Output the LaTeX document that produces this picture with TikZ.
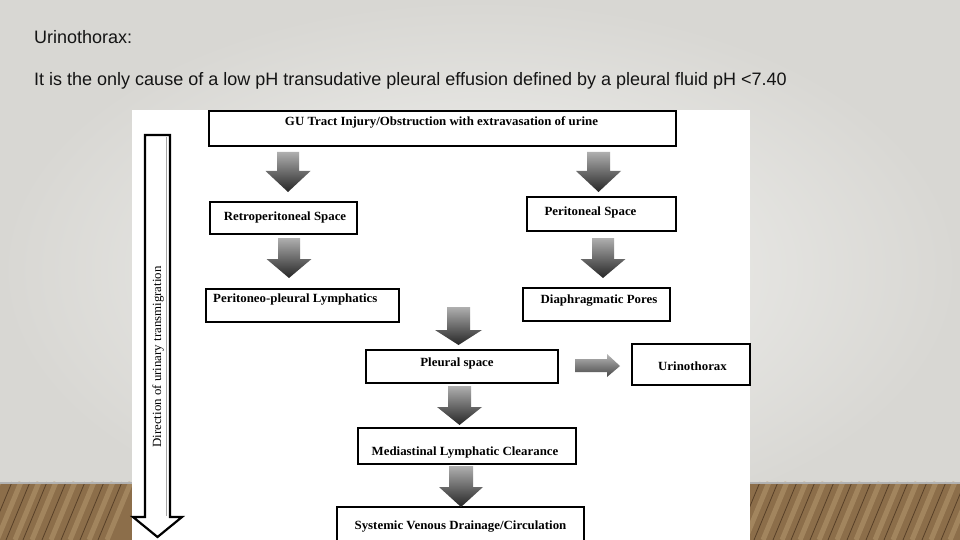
\documentclass[tikz,border=0pt]{standalone}
\usepackage{fontspec}
\setmainfont{Liberation Sans}
\newfontfamily\cambriaish[FakeStretch=1.03]{Liberation Serif}
\usetikzlibrary{calc}
\definecolor{bgin}{RGB}{244,244,242}
\definecolor{bgout}{RGB}{216,215,211}
\definecolor{woodbase}{RGB}{140,110,74}
\definecolor{wooddark}{RGB}{88,64,40}
\definecolor{woodlight}{RGB}{190,162,120}
\definecolor{arrtop}{RGB}{175,175,175}
\definecolor{arrbot}{RGB}{38,38,38}
\tikzset{
  box/.style={draw=black, line width=2pt, fill=white, inner sep=0pt, anchor=north west},
  lbl/.style={font=\cambriaish\fontsize{12.5}{14}\selectfont\bfseries, inner sep=0pt, anchor=base},
  dirlbl/.style={font=\cambriaish\fontsize{12.5}{14}\selectfont, inner sep=0pt, rotate=90},
  toptxt/.style={font=\fontsize{18}{21}\selectfont, text=black!92, inner sep=0pt, anchor=base west},
}
\newcommand\dblock[6]{%
  \shade[top color=arrtop, bottom color=arrbot]
    (#1-#5,#2) -- (#1+#5,#2) -- (#1+#5,#3) -- (#1+#6,#3) -- (#1,#4) -- (#1-#6,#3) -- (#1-#5,#3) -- cycle;}
\begin{document}
\begin{tikzpicture}[x=1pt,y=-1pt]
\useasboundingbox (0,0) rectangle (960,540);
% background
\shade[inner color=bgin, outer color=bgout] (0,0) rectangle (960,540);
% wooden floor
\fill[woodbase] (0,482) rectangle (960,540);
\foreach \xx in {-10,12,30,47,66,85,104,122,760,778,797,815,834,852,871,890,908,927,946,965}{
  \draw[woodlight, line width=5pt, opacity=0.45] (\xx+9,482) -- (\xx-15,540);
  \draw[wooddark, line width=0.8pt] (\xx,482) -- (\xx-24,540);
}
\fill[black!30] (0,482) rectangle (960,483.5);
% white image panel
\fill[white] (132,110) rectangle (750,540);
% direction arrow
\draw[black, line width=2.2pt, fill=white, line join=miter]
  (145,135) -- (170,135) -- (170,517) -- (182,517) -- (157.5,537) -- (133,517) -- (145,517) -- cycle;
\draw[black!35, line width=0.6pt] (166,137) -- (166,516);
\node[dirlbl] (dir) at (158,357) {Direction of urinary transmigration};
% boxes
\node[box, minimum width=467pt, minimum height=35pt] (gu) at (208,110) {};
\node[box, minimum width=147pt, minimum height=32pt] (retro) at (209,201) {};
\node[box, minimum width=149pt, minimum height=34pt] (perit) at (526,196) {};
\node[box, minimum width=193pt, minimum height=33pt] (pplymph) at (205,288) {};
\node[box, minimum width=147pt, minimum height=33pt] (diaph) at (522,287) {};
\node[box, minimum width=192pt, minimum height=33pt] (pleural) at (365,349) {};
\node[box, minimum width=118pt, minimum height=41pt] (urino) at (631,343) {};
\node[box, minimum width=218pt, minimum height=36pt] (medias) at (357,427) {};
\node[box, minimum width=247pt, minimum height=40pt] (systemic) at (336,506) {};
% labels
\node[lbl] (gut) at (441.5,125.5) {GU Tract Injury/Obstruction with extravasation of urine};
\node[lbl] (retrot) at (285,220) {Retroperitoneal Space};
\node[lbl] (peritt) at (590.5,215) {Peritoneal Space};
\node[lbl, anchor=base west] (pplympht) at (213,302) {Peritoneo-pleural Lymphatics};
\node[lbl] (diapht) at (599,303) {Diaphragmatic Pores};
\node[lbl] (pleuralt) at (457,366) {Pleural space};
\node[lbl] (urinot) at (692.5,370) {Urinothorax};
\node[lbl] (mediast) at (465,455) {Mediastinal Lymphatic Clearance};
\node[lbl] (systemict) at (460.5,529) {Systemic Venous Drainage/Circulation};
% block arrows
\dblock{288}{152}{171}{192}{11}{22.5}
\dblock{598.5}{152}{171}{192}{11.5}{22.5}
\dblock{289}{238}{259}{278}{11}{22.5}
\dblock{603}{238}{259}{278}{11}{22.5}
\dblock{458.5}{307}{330}{345}{11.5}{23.5}
\dblock{459.5}{386}{407}{425}{11.5}{22.5}
\dblock{461}{466}{487}{507}{12}{22}
\shade[top color=arrtop!90, bottom color=arrbot!85]
  (575,359) -- (607,359) -- (607,354) -- (620,366) -- (607,377) -- (607,372) -- (575,372) -- cycle;
% title text
\node[toptxt] (title) at (34,44) {Urinothorax:};
\node[toptxt] (desc) at (34,86) {It is the only cause of a low pH transudative pleural effusion defined by a pleural fluid pH <7.40};
\end{tikzpicture}
\end{document}
